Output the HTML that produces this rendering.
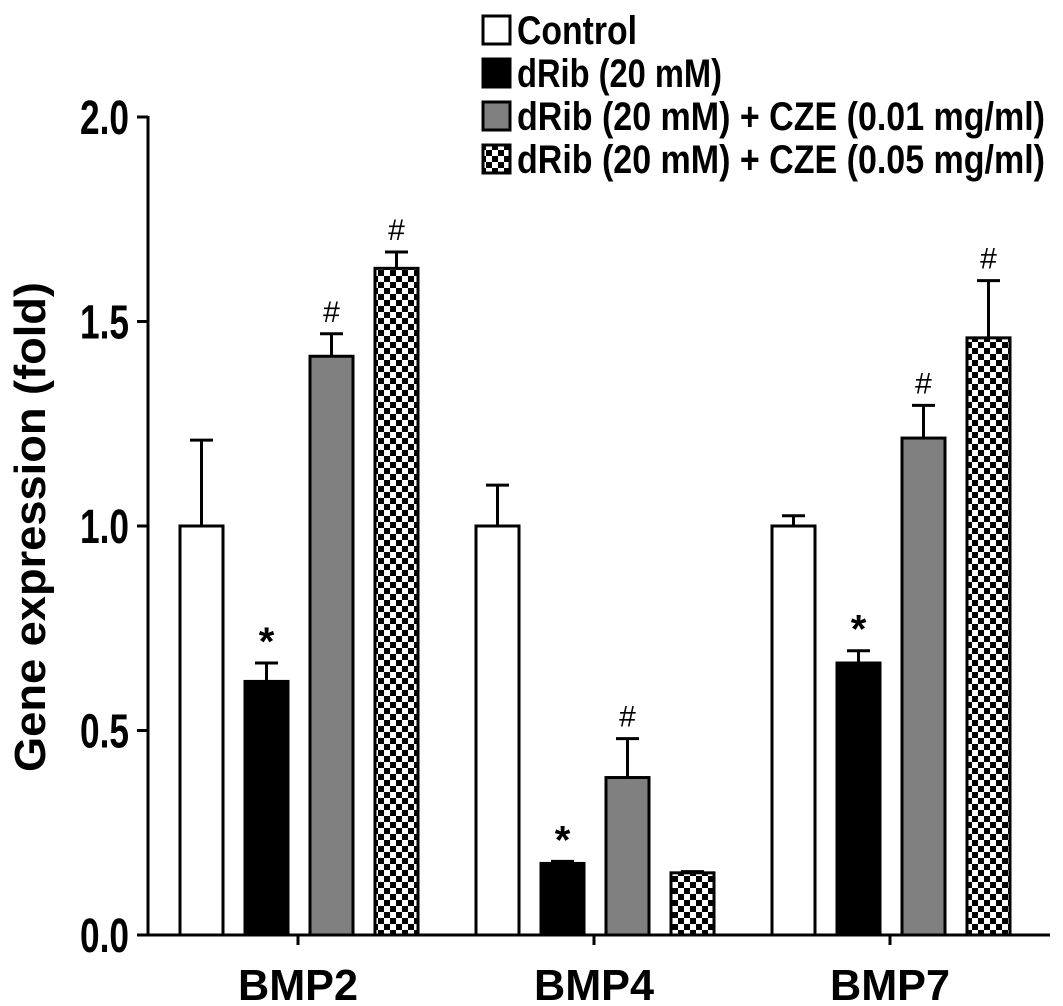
<!DOCTYPE html>
<html><head><meta charset="utf-8"><style>body{margin:0;background:#fff}svg{display:block}</style></head>
<body>
<svg id="c" width="1063" height="1006" xmlns="http://www.w3.org/2000/svg">
<defs>
<pattern id="chk" width="12" height="12" patternUnits="userSpaceOnUse">
<rect width="12" height="12" fill="#fff"/><rect width="6" height="6" fill="#000"/><rect x="6" y="6" width="6" height="6" fill="#000"/>
</pattern>
</defs>
</svg>
<script>
const categories = ["BMP2","BMP4","BMP7"];
const seriesNames = ["Control","dRib (20 mM)","dRib (20 mM) + CZE (0.01 mg/ml)","dRib (20 mM) + CZE (0.05 mg/ml)"];
const control = [1.0, 1.0, 1.0];
const dRib = [0.62, 0.175, 0.665];
const cze001 = [1.415, 0.385, 1.215];
const cze005 = [1.63, 0.152, 1.46];
const errControl = [0.21, 0.10, 0.025];
const errDRib = [0.045, 0.005, 0.03];
const errCze001 = [0.055, 0.095, 0.08];
const errCze005 = [0.04, 0.003, 0.14];
const marks = [["","*","#","#"],["","*","#",""],["","*","#","#"]];
const yTicks = [0, 0.5, 1.0, 1.5, 2.0];
const yTickLabels = ["0.0","0.5","1.0","1.5","2.0"];

const svg = document.getElementById('c');
const NS = 'http://www.w3.org/2000/svg';
const y0 = 935, y1 = 117;
const yS = v => y0 - v / 2 * (y0 - y1);
const groupC = i => 298 + i * 296;
const barX = (i, s) => groupC(i) - 118 + s * 65;
const fills = ["#fff", "#000", "#808080", "url(#chk)"];
const series = [control, dRib, cze001, cze005];
const errs = [errControl, errDRib, errCze001, errCze005];
const FF = 'Liberation Sans, sans-serif';
function el(t, a, txt) { const e = document.createElementNS(NS, t); for (const k in a) e.setAttribute(k, a[k]); if (txt !== undefined) e.textContent = txt; svg.appendChild(e); return e; }

for (let i = 0; i < categories.length; i++) {
  for (let s = 0; s < 4; s++) {
    const v = series[s][i], x = barX(i, s), w = 43, top = yS(v), et = yS(v + errs[s][i]);
    const ln = el('line', {x1: x + w / 2, x2: x + w / 2, y1: top, y2: et, stroke: '#000', 'stroke-width': 3});
    
    
    const cap = el('line', {x1: x + 10, x2: x + w - 10, y1: et, y2: et, stroke: '#000', 'stroke-width': 3});
    
    
    const r = el('rect', {x: x, y: top, width: w, height: y0 - top, fill: fills[s], stroke: '#000', 'stroke-width': 3});
    
    
    if (marks[i][s]) {
      const star = marks[i][s] === '*';
      const m = el('text', {x: x + w / 2, y: et - (star ? 8 : 12), 'text-anchor': 'middle', 'font-family': FF, 'font-size': star ? 40 : 30, 'font-weight': star ? 'bold' : 'normal'}, marks[i][s]);
      
      
    }
  }
  const tk = el('line', {x1: groupC(i), x2: groupC(i), y1: y0, y2: y0 + 10, stroke: '#000', 'stroke-width': 3});
  
  
  const lb = el('text', {x: groupC(i) - 60, y: 1000, 'font-family': FF, 'font-size': 44, 'font-weight': 'bold', textLength: 120, lengthAdjust: 'spacingAndGlyphs'}, categories[i]);
  
  
}
for (let k = 0; k < yTicks.length; k++) {
  const yy = yS(yTicks[k]);
  const t = el('line', {x1: 137, x2: 148, y1: yy, y2: yy, stroke: '#000', 'stroke-width': 3});
  
  
  const l = el('text', {x: 80, y: yy + 17, 'font-family': FF, 'font-size': 48, 'font-weight': 'bold', textLength: 49, lengthAdjust: 'spacingAndGlyphs'}, yTickLabels[k]);
  
  
}
const ya = el('line', {x1: 148, x2: 148, y1: y1 - 1, y2: y0 + 1.5, stroke: '#000', 'stroke-width': 3});


const xa = el('line', {x1: 147, x2: 1050, y1: y0, y2: y0, stroke: '#000', 'stroke-width': 3});


const yt = el('text', {x: -245, y: 0, transform: 'translate(45,527) rotate(-90)', 'font-family': FF, 'font-size': 44, 'font-weight': 'bold', textLength: 490, lengthAdjust: 'spacingAndGlyphs'}, 'Gene expression (fold)');


const legY = [30, 73, 116, 159];
const legW = [120, 205, 528, 528];
for (let s = 0; s < 4; s++) {
  const b = el('rect', {x: 483, y: legY[s] - 14, width: 27, height: 28, fill: fills[s], stroke: '#000', 'stroke-width': 3});
  
  
  const t = el('text', {x: 517, y: legY[s] + 14, 'font-family': FF, 'font-size': 40, 'font-weight': 'bold', textLength: legW[s], lengthAdjust: 'spacingAndGlyphs'}, seriesNames[s]);
  
  
}
</script>
</body></html>
